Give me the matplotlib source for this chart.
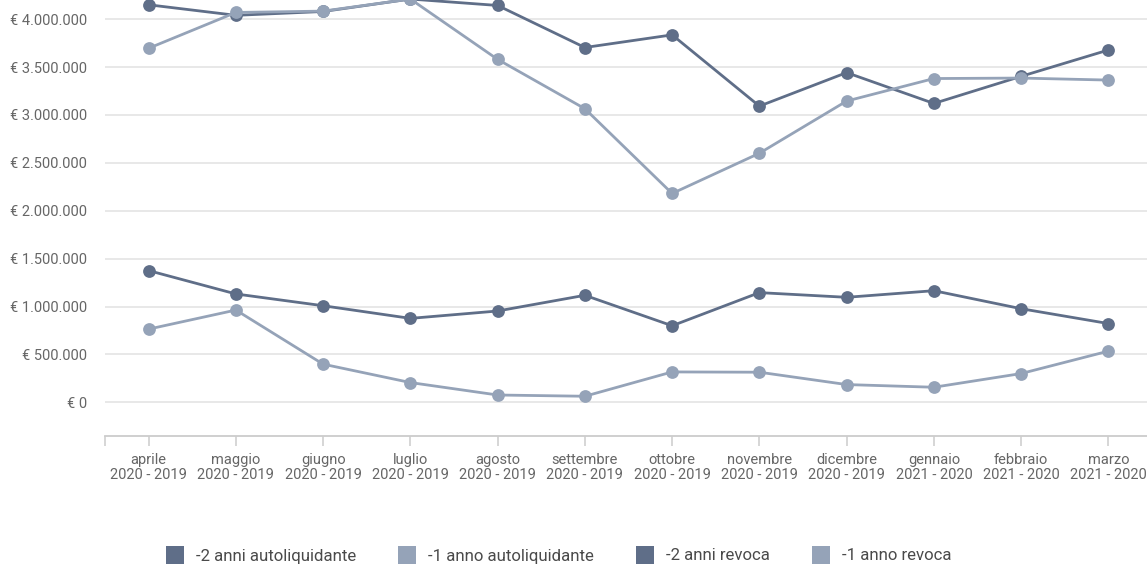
import matplotlib
matplotlib.use("Agg")
import matplotlib.pyplot as plt
from matplotlib.lines import Line2D
from matplotlib.ticker import FuncFormatter

plt.rcParams["font.family"] = ["Roboto", "DejaVu Sans"]

# --- Data ------------------------------------------------------------------
months = ["aprile", "maggio", "giugno", "luglio", "agosto", "settembre",
          "ottobre", "novembre", "dicembre", "gennaio", "febbraio", "marzo"]
years = ["2020 - 2019"] * 9 + ["2021 - 2020"] * 3
labels = [f"{m}\n{y}" for m, y in zip(months, years)]

autoliq_2y = [4150000, 4040000, 4080000, 4210000, 4143000, 3704000,
              3836000, 3092000, 3442000, 3120000, 3403000, 3678000]
autoliq_1y = [3696000, 4070000, 4084000, 4210000, 3580000, 3065000,
              2180000, 2600000, 3145000, 3380000, 3385000, 3364000]
revoca_2y = [1375000, 1131000, 1008000, 876000, 953000, 1117000,
             799000, 1145000, 1096000, 1165000, 977000, 822000]
revoca_1y = [764000, 963000, 398000, 206000, 76000, 63000,
             317000, 314000, 185000, 157000, 300000, 534000]

series_names = ["-2 anni autoliquidante", "-1 anno autoliquidante",
                "-2 anni revoca", "-1 anno revoca"]

DARK = "#5f6e88"
LIGHT = "#95a3b8"
colors = [DARK, LIGHT, DARK, LIGHT]
TXT = "#666666"


def euro(v, _pos):
    return "€ " + f"{v:,.0f}".replace(",", ".")


# --- Plot ------------------------------------------------------------------
fig = plt.figure(figsize=(11.47, 5.66), dpi=100)
ax = fig.add_axes([105 / 1147, 130 / 566, 1047 / 1147, 436 / 566])

x = list(range(len(months)))
for vals, c in zip([autoliq_2y, autoliq_1y, revoca_2y, revoca_1y], colors):
    ax.plot(x, vals, color=c, linewidth=2.0, marker="o", markersize=9.2,
            markeredgewidth=0, clip_on=False, zorder=3)

ax.set_xlim(-0.5, 11.5)
ax.set_ylim(-352000, 4200000)
ax.set_yticks(range(0, 4000001, 500000))
ax.yaxis.set_major_formatter(FuncFormatter(euro))
ax.grid(axis="y", color="#e6e6e6", linewidth=1.3)
ax.set_axisbelow(True)

ax.set_xticks(x)
ax.set_xticklabels(labels, linespacing=1.1)
ax.set_xticks([-0.5], minor=True)

for s in ["top", "right", "left"]:
    ax.spines[s].set_visible(False)
ax.spines["bottom"].set_color("#cccccc")
ax.spines["bottom"].set_linewidth(1.3)

ax.tick_params(axis="y", length=0, pad=13, labelsize=10.5, labelcolor=TXT)
ax.tick_params(axis="x", which="both", length=7.5, width=1.1, color="#cccccc",
               pad=4.5, labelsize=10.5, labelcolor=TXT)

handles = [Line2D([], [], linestyle="none", marker="s", markersize=13.5,
                  markerfacecolor=c, markeredgewidth=0) for c in colors]
leg = fig.legend(handles, series_names, ncol=4, loc="center",
                 bbox_to_anchor=(559 / 1147, 10 / 566), frameon=False,
                 fontsize=12.1, handletextpad=0.75, columnspacing=2.55,
                 handlelength=1.0)
for t in leg.get_texts():
    t.set_color("#4a4a4a")

fig.savefig("out.png", dpi=100)
